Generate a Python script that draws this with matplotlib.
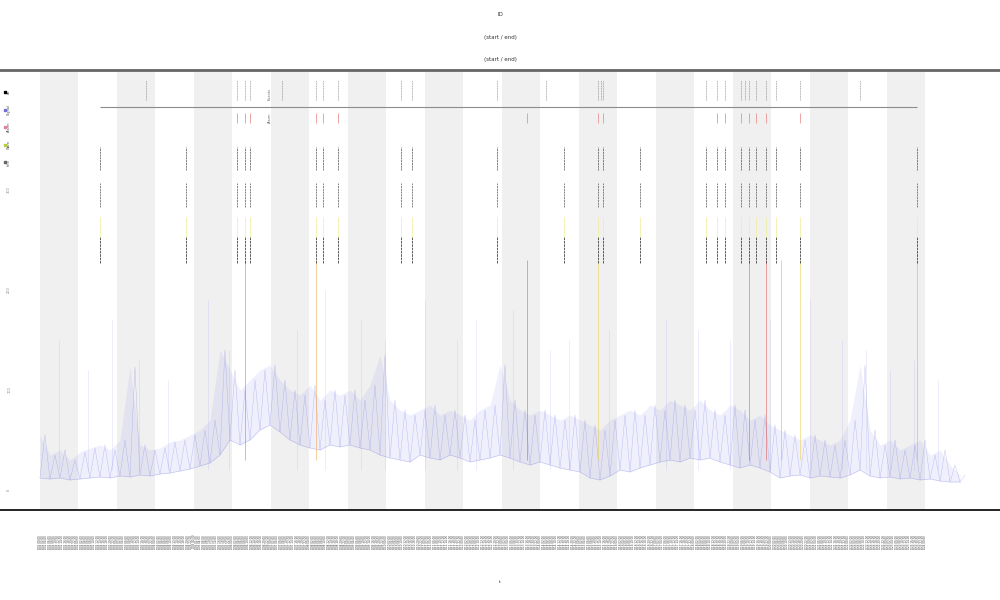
import matplotlib.pyplot as plt
import numpy as np

# trace, one low/high pair every ~6.2 h
trace_end = 573.6
low = [12, 11, 12, 10, 11, 12,
       13, 12, 14, 13, 15, 14,
       16, 17, 19, 21, 24, 27,
       35, 50, 45, 50, 60, 65, 58, 50, 45, 42,
       40, 45, 43, 45, 42, 40, 35, 32, 30, 28,
       35, 32, 30, 35, 32, 28, 30, 32, 35, 32,
       28, 25, 28, 25, 22, 20, 18, 12, 10, 14,
       20, 18, 22, 25, 28, 30, 28, 32, 30, 32,
       28, 25, 22, 25, 22, 18, 12, 14, 15, 12,
       14, 13, 12, 15, 20, 14, 12, 13, 11, 12,
       10, 11, 9, 8, 8]
high = [55, 35, 40, 30, 38, 42,
        45, 40, 50, 123, 45, 40,
        42, 48, 50, 55, 60, 70,
        140, 120, 100, 110, 120, 125, 110, 100, 95, 105,
        90, 100, 95, 100, 90, 105, 135, 90, 80, 75,
        80, 85, 75, 80, 75, 70, 80, 85, 125, 90,
        80, 75, 80, 75, 70, 75, 70, 65, 60, 70,
        75, 80, 75, 85, 80, 90, 85, 80, 90, 80,
        75, 85, 80, 70, 75, 65, 60, 55, 50, 55,
        50, 45, 50, 70, 125, 60, 45, 50, 40, 45,
        50, 35, 40, 25, 15]

# faint tall spikes
spike_t = [12, 30, 45, 62, 80, 105, 118, 160, 178, 200, 215, 240, 260, 272, 295,
           318, 330, 355, 390, 410, 430, 455, 480, 500, 515, 530, 545, 560]
spike_v = [150, 120, 170, 130, 110, 190, 140, 160, 200, 170, 150, 190, 150, 170,
           180, 140, 150, 160, 170, 160, 150, 170, 190, 150, 140, 120, 130, 110]

# events (hours)
ev_top = [66.1, 122.8, 127.8, 130.9, 150.9, 172.1, 176.4, 185.8, 225.1, 231.9,
          284.9, 315.5, 347.9, 349.5, 351.0, 415.2, 422.1, 427.1, 437.0, 439.5,
          442.0, 446.4, 452.6, 458.9, 473.8, 511.2]
ev_red = [122.8, 127.8, 130.9, 172.1, 176.4, 185.8, 303.6, 347.9, 351.0, 422.1,
          427.1, 437.0, 442.0, 446.4, 452.6, 473.8]
ev_black = [37.4, 91.0, 122.8, 127.8, 130.9, 172.1, 176.4, 185.8, 225.1, 231.9,
            284.9, 326.7, 347.9, 351.0, 374.1, 415.2, 422.1, 427.1, 437.0, 442.0,
            446.4, 452.6, 458.9, 473.8, 546.8]
ev_long = [127.8, 172.1, 303.6, 347.9, 442.0, 452.6, 462.0, 473.8, 546.8]
ev_long_col = ['#e06060', '#f0a040', '#e05050', '#e8d040', '#e05050', '#e05050',
               '#f0a040', '#e8d040', '#f0a040']

n_days = 24
title_lines = ['ID', '(start / end)', '(start / end)']
legend_labels = ['All', 'Signal', 'Alarm', 'Warn', 'Info']
legend_colors = ['black', '#7070d0', '#e080a0', '#b0d040', '0.4']
xtick_hours = list(range(0, 553, 2))
xtick_labels = ['D%02d %02d:00' % (h // 24 + 1, h % 24) for h in xtick_hours]

fig = plt.figure(figsize=(10, 6), dpi=100)
ax = fig.add_axes([0.0, 0.15, 1.0, 0.7333])

for d in range(0, n_days, 2):
    ax.axvspan(d * 24, (d + 1) * 24, color='#f0f0f0', lw=0, zorder=0)

t = np.linspace(0, trace_end, len(low))
step = t[1] - t[0]
zig_t = np.column_stack([t, t + step / 2]).ravel()
zig_v = np.column_stack([low, high]).ravel()
ax.fill_between(t, low, high, color='#9090f0', alpha=0.13, lw=0, zorder=1)
ax.plot(zig_t, zig_v, color='#7070e0', lw=0.3, alpha=0.45, zorder=2)
ax.plot(t, low, color='#7070e0', lw=0.4, alpha=0.4, zorder=2)
ax.vlines(spike_t, 20, spike_v, color='#8080f0', lw=0.4, alpha=0.25, zorder=1)

ax.vlines(ev_long, 30, 230, colors=ev_long_col, lw=0.6, alpha=0.6, zorder=3)
ax.vlines(ev_top, 390, 410, color='0.5', lw=0.4, linestyle=(0, (2, 1)), zorder=3)
ax.vlines(ev_red, 367, 377, color='#e88080', lw=0.5, zorder=3)
ax.vlines(ev_black, 320, 343, color='0.3', lw=0.5, linestyle=(0, (3, 1)), zorder=3)
ax.vlines(ev_black, 283, 307, color='0.35', lw=0.5, linestyle=(0, (3, 1)), zorder=3)
ax.vlines(ev_black, 253, 273, color='#eeee99', lw=0.5, zorder=3)
ax.vlines(ev_black, 227, 253, color='0.25', lw=0.6, linestyle=(0, (3, 1)), zorder=3)
ax.hlines(383, 37.4, 546.8, color='0.55', lw=0.8, zorder=3)

ax.text(143.4, 396, 'Events', rotation=90, fontsize=2.5, color='0.4',
        ha='center', va='center')
ax.text(143.4, 372, 'Alarm', rotation=90, fontsize=2.5, color='0.4',
        ha='center', va='center')

ax.set_xlim(-24.9, 598.5)
ax.set_ylim(-20, 420)
ax.set_xticks(xtick_hours)
ax.set_xticklabels(xtick_labels, rotation=90, fontsize=2, color='0.25')
ax.tick_params(axis='x', length=0, pad=18)
ax.set_yticks([0, 100, 200, 300])
ax.set_yticklabels(['0', '100', '200', '300'], rotation=90, fontsize=2.5,
                   color='0.5', va='center')
ax.tick_params(axis='y', length=0, pad=-8)
ax.set_xlabel('t', fontsize=3, labelpad=22)

ax.spines['left'].set_visible(False)
ax.spines['right'].set_visible(False)
ax.spines['top'].set_color('0.4')
ax.spines['top'].set_linewidth(2)
ax.spines['bottom'].set_color('black')
ax.spines['bottom'].set_linewidth(1.2)

# small legend in the top-left corner
for i, (lab, col) in enumerate(zip(legend_labels, legend_colors)):
    y = 0.95 - i * 0.04
    ax.plot(0.005, y, marker='s', ms=2, color=col, transform=ax.transAxes,
            clip_on=False, zorder=5)
    ax.text(0.009, y, lab, rotation=90, fontsize=2.5, color='0.3',
            transform=ax.transAxes, ha='center', va='center')

for i, line in enumerate(title_lines):
    fig.text(0.5, 0.975 - i * 0.037, line, fontsize=4, ha='center', va='center',
             color='0.2')

fig.savefig('out.png', dpi=100)
